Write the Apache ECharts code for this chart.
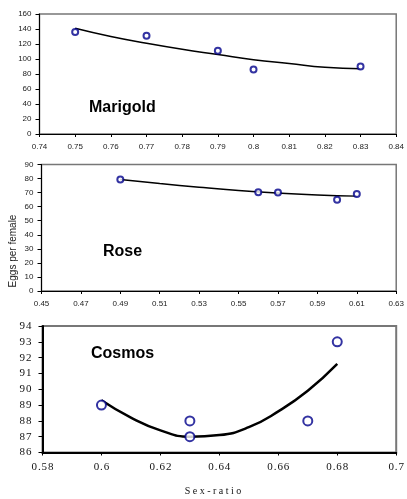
<!DOCTYPE html>
<html>
<head>
<meta charset="utf-8">
<script src="https://cdn.jsdelivr.net/npm/echarts@6/dist/echarts.min.js"></script>
<style>
  html, body { margin: 0; padding: 0; background: #fff; }
  #chart { width: 407px; height: 499px; }
</style>
</head>
<body>
<div id="chart"></div>
<script>
// Marigold
var marigoldX = [0.75, 0.77, 0.79, 0.80, 0.83];
var marigoldY = [136, 131, 111, 86, 90];
var marigoldFitX = [0.75, 0.76, 0.77, 0.78, 0.79, 0.80, 0.81, 0.82, 0.83];
var marigoldFitY = [141, 130, 121, 113, 106, 99, 94, 89, 87];

// Rose
var roseX = [0.49, 0.56, 0.57, 0.60, 0.61];
var roseY = [79.4, 70.2, 70, 65, 69];
var roseFitX = [0.49, 0.51, 0.53, 0.55, 0.57, 0.59, 0.61];
var roseFitY = [79.3, 76.4, 73.8, 71.5, 69.7, 68.3, 67.5];

// Cosmos
var cosmosX = [0.60, 0.63, 0.63, 0.67, 0.68];
var cosmosY = [89, 88, 87, 88, 93];
var cosmosFitX = [0.60, 0.61, 0.62, 0.63, 0.64, 0.65, 0.66, 0.67, 0.68];
var cosmosFitY = [89.3, 88.2, 87.4, 87.0, 87.1, 87.6, 88.6, 89.9, 91.6];

var panelNames = ['Marigold', 'Rose', 'Cosmos'];
var yTitle = 'Eggs per female';
var xTitle = 'Sex-ratio';

function pairs(xs, ys) {
  return xs.map(function (x, i) { return [x, ys[i]]; });
}
function num(v) {
  return String(parseFloat(v.toFixed(2)));
}
// the serif labels of the last panel are spread out a bit
function spaced(s) {
  return s.split('').join('\u200a');
}

var sansLabel = { fontFamily: 'Liberation Sans, Arial', fontSize: 8, color: '#222' };
var serifLabel = { fontFamily: 'Liberation Serif, Times New Roman', fontSize: 11, color: '#111' };

function xAx(idx, min, max, step, serif) {
  return {
    type: 'value', gridIndex: idx, min: min, max: max, interval: step,
    axisLine: { onZero: false, lineStyle: { color: '#000', width: serif ? 2 : 1 } },
    axisTick: { length: 3, lineStyle: { color: '#000' } },
    splitLine: { show: false },
    axisLabel: Object.assign({
      margin: 9,
      formatter: function (v) { return serif ? spaced(num(v)) : num(v); }
    }, serif ? serifLabel : sansLabel)
  };
}
function yAx(idx, min, max, step, serif) {
  return {
    type: 'value', gridIndex: idx, min: min, max: max, interval: step,
    axisLine: { show: true, onZero: false, lineStyle: { color: '#000', width: serif ? 2 : 1 } },
    axisTick: { show: true, length: 4, lineStyle: { color: '#000' } },
    splitLine: { show: false },
    axisLabel: Object.assign({
      margin: serif ? 11 : 8,
      formatter: function (v) { return serif ? spaced(num(v)) : num(v); }
    }, serif ? serifLabel : sansLabel)
  };
}
function dots(idx, xs, ys, size, bw) {
  return {
    type: 'scatter', xAxisIndex: idx, yAxisIndex: idx,
    data: pairs(xs, ys), symbol: 'emptyCircle', symbolSize: size,
    itemStyle: { color: '#00008b', borderWidth: bw },
    z: 3
  };
}
function fit(idx, xs, ys, w) {
  return {
    type: 'line', xAxisIndex: idx, yAxisIndex: idx,
    data: pairs(xs, ys), smooth: true, showSymbol: false,
    lineStyle: { color: '#000', width: w }, z: 2
  };
}
function label(txt, x, y) {
  return {
    type: 'text', x: x, y: y,
    style: { text: txt, font: 'bold 16px "Liberation Sans", Arial', fill: '#000', textVerticalAlign: 'middle' }
  };
}

var chart = echarts.init(document.getElementById('chart'));
chart.setOption({
  animation: false,
  grid: [
    { left: 39.5, top: 14, width: 359.5, height: 120, show: true, borderColor: '#777', borderWidth: 1.5 },
    { left: 41.5, top: 164.5, width: 356, height: 126.5, show: true, borderColor: '#777', borderWidth: 1.5 },
    { left: 42.5, top: 326, width: 355, height: 126.5, show: true, borderColor: '#777', borderWidth: 2 }
  ],
  xAxis: [
    xAx(0, 0.74, 0.84, 0.01, false),
    xAx(1, 0.45, 0.63, 0.02, false),
    xAx(2, 0.58, 0.70, 0.02, true)
  ],
  yAxis: [
    yAx(0, 0, 160, 20, false),
    yAx(1, 0, 90, 10, false),
    yAx(2, 86, 94, 1, true)
  ],
  series: [
    fit(0, marigoldFitX, marigoldFitY, 1.5),
    dots(0, marigoldX, marigoldY, 6, 1.3),
    fit(1, roseFitX, roseFitY, 1.5),
    dots(1, roseX, roseY, 6, 1.3),
    fit(2, cosmosFitX, cosmosFitY, 2.5),
    dots(2, cosmosX, cosmosY, 9, 1.1)
  ],
  graphic: [
    label(panelNames[0], 89, 108),
    label(panelNames[1], 103, 252),
    label(panelNames[2], 91, 354),
    {
      type: 'text', x: 13, y: 251, rotation: Math.PI / 2,
      style: { text: yTitle, font: '10px "Liberation Sans", Arial', fill: '#222', textAlign: 'center', textVerticalAlign: 'middle' }
    },
    {
      type: 'text', x: 213, y: 491,
      style: { text: spaced(spaced(xTitle)), font: '10px "Liberation Serif", "Times New Roman"', fill: '#111', textAlign: 'center', textVerticalAlign: 'middle' }
    }
  ]
});
</script>
</body>
</html>
